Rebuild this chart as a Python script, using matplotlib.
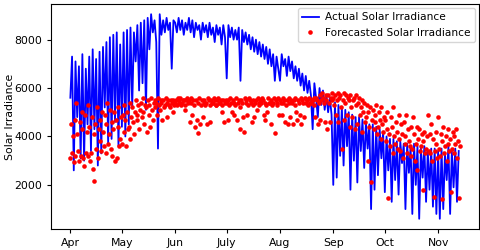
import numpy as np
import pandas as pd
import matplotlib
matplotlib.use("Agg")
import matplotlib.pyplot as plt

# actual irradiance, one value per day
actual_apr = [5600, 7300, 2600, 7100, 4800, 6900, 3100, 7400, 3000, 6800,
              4500, 7300, 3400, 7600, 4300, 7200, 2800, 7500, 3300, 7700,
              5200, 7900, 3700, 8100, 3900, 8200, 4600, 8300, 3600, 7800]
actual_may = [4400, 8300, 4000, 8400, 4500, 8500, 5200, 8300, 7100, 8600,
              5900, 8700, 6200, 8800, 5100, 8900, 7600, 9050, 8300, 8800,
              7900, 3500, 9050, 8200, 8800, 8300, 8900, 8400, 8700, 6800, 8800]
actual_jun = [8700, 8300, 8900, 8400, 8800, 8200, 8700, 8400, 8900, 8300,
              8800, 8100, 8700, 8400, 8600, 8000, 8700, 8300, 8600, 8100,
              8700, 8200, 8500, 7900, 8600, 8200, 8500, 7800, 8600, 8100]
actual_jul = [6400, 8600, 8100, 8500, 8000, 8400, 8000, 8500, 6300, 8400,
              7900, 8300, 7800, 8200, 7600, 8100, 7500, 8000, 7400, 7900,
              7300, 7800, 7200, 7700, 7000, 7600, 6900, 7400, 6300, 7300, 6800]
actual_aug = [6300, 7400, 6900, 7200, 6500, 7300, 6700, 7100, 6400, 6900,
              6300, 6800, 6100, 6600, 5900, 6500, 5800, 6300, 5700, 4300,
              6200, 5600, 4800, 6000, 5300, 5900, 5100, 5700, 5000, 5600, 4900]
actual_sep = [2000, 5400, 2300, 5300, 3200, 5200, 2800, 5100, 3600, 5000,
              1800, 4900, 3000, 4800, 2100, 4800, 3400, 4700, 2700, 4600,
              3500, 4500, 1000, 4500, 1800, 4400, 2400, 4300, 3100, 4200]
actual_oct = [1700, 4000, 2600, 3900, 1300, 3900, 2200, 3800, 1600, 3800,
              2900, 3700, 1000, 3700, 2500, 3600, 800, 3700, 2000, 3600,
              600, 3500, 2300, 3600, 1300, 3400, 1800, 3500, 1100, 3500, 800]
actual_nov = [3400, 600, 3500, 1000, 3300, 2200, 3600, 800, 3400, 1900,
              3500, 1300, 3400]

# forecast irradiance, two values per day
forecast_apr = [3100, 4500, 3300, 4000, 2950, 4700, 3200, 5400, 4100, 3400,
                3000, 4600, 3200, 5000, 4300, 3100, 2800, 4900, 3300, 4200,
                5300, 3200, 4400, 3000, 3300, 4800, 2650, 4100, 2150, 4500,
                3500, 5200, 3100, 4300, 4700, 3800, 3400, 5000, 4200, 3600,
                4900, 3300, 4500, 5400, 3700, 4100, 5100, 3500, 4600, 3200,
                4300, 5000, 3000, 4700, 3100, 5200, 4400, 3600, 3900, 4800]
forecast_may = [3700, 4900, 4200, 5300, 4700, 3600, 5000, 4300, 4400, 5400,
                3900, 4800, 5200, 4600, 4100, 5000, 5500, 4700, 4900, 5300,
                4300, 5100, 5400, 4800, 5000, 5600, 4500, 5300, 5200, 4200,
                5500, 4900, 5300, 4400, 5600, 5100, 4700, 5400, 5200, 5500,
                5400, 4900, 5600, 5300, 5100, 5500, 5400, 4700, 5500, 5200,
                5300, 5600, 5400, 4800, 5500, 5300, 5200, 5500, 5400, 5000,
                5500, 5300]
forecast_jun = [5400, 5500, 5300, 5600, 5500, 5400, 5600, 5300, 5400, 5500,
                5500, 5100, 5300, 5500, 5600, 5400, 5500, 4600, 5400, 5600,
                4900, 5500, 5300, 4400, 5500, 4700, 4150, 5400, 5600, 4500,
                5300, 5500, 4800, 5400, 5500, 5300, 5400, 4500, 5600, 5500,
                5300, 4600, 5500, 5400, 5400, 5600, 5500, 5300, 5300, 5500,
                5600, 5400, 5400, 5500, 5000, 5300, 5500, 4600, 5400, 5500]
forecast_jul = [5400, 4700, 5500, 5300, 5600, 5400, 5000, 5500, 5400, 4900,
                5300, 5600, 4700, 5400, 5500, 5200, 4300, 5500, 5400, 4800,
                4200, 5600, 5500, 5400, 4900, 5300, 5600, 5500, 5400, 4600,
                5300, 5500, 4800, 5400, 5500, 5100, 5600, 5400, 5300, 5500,
                5400, 5600, 5500, 4900, 4700, 5400, 5300, 5000, 5600, 5400,
                5400, 4500, 5500, 5300, 5400, 5600, 4150, 5500, 5300, 5400,
                5600, 4900]
forecast_aug = [5500, 5400, 4900, 5600, 5400, 5500, 4600, 5300, 5500, 4500,
                5600, 5400, 4800, 5500, 5400, 4500, 5500, 5600, 5300, 5000,
                4700, 5500, 5400, 4900, 5600, 4500, 5500, 5400, 4800, 5600,
                5400, 5500, 5500, 5300, 5600, 5400, 5400, 5500, 5500, 5600,
                5300, 4800, 5600, 5500, 4500, 5400, 5700, 4700, 5500, 5800,
                5600, 5400, 4600, 5700, 5500, 4300, 5700, 5400, 4600, 5600,
                5800, 5500]
forecast_sep = [5600, 5300, 5700, 4900, 5500, 5800, 4600, 5600, 5700, 5200,
                3500, 5500, 5800, 4700, 5400, 5700, 4900, 5600, 5500, 4400,
                5700, 5200, 4800, 5500, 5600, 4300, 5300, 5700, 4500, 5400,
                5600, 4900, 5200, 5500, 4200, 5000, 5400, 4600, 4800, 5300,
                3000, 5000, 4400, 5200, 2100, 4700, 5100, 4300, 4600, 4900,
                5300, 4100, 4400, 5000, 4700, 3900, 5200, 4500, 4200, 4800]
forecast_oct = [4700, 3800, 4300, 5000, 1450, 4100, 3600, 4800, 4400, 3300,
                5200, 4000, 3700, 4600, 4200, 3500, 4900, 3900, 3400, 4500,
                4100, 3100, 4600, 3700, 4000, 4900, 3300, 4300, 3800, 3600,
                4400, 3200, 3500, 4800, 4100, 3000, 3700, 4400, 2600, 3900,
                4300, 3400, 3600, 4100, 1800, 3800, 4200, 3300, 3500, 4000,
                4900, 3400, 3300, 4100, 4500, 3000, 3900, 1500, 3400, 4200,
                3700, 3100]
forecast_nov = [4800, 3500, 3200, 4100, 3800, 1400, 4400, 3300, 3600, 4000,
                3000, 3700, 4300, 3400, 3900, 1700, 3500, 4200, 4000, 3300,
                3700, 4300, 3100, 3800, 1450, 3600]

month_labels = ['Apr', 'May', 'Jun', 'July', 'Aug', 'Sep', 'Oct', 'Nov']

actual = np.concatenate([actual_apr, actual_may, actual_jun, actual_jul,
                         actual_aug, actual_sep, actual_oct, actual_nov])
forecast = np.concatenate([forecast_apr, forecast_may, forecast_jun, forecast_jul,
                           forecast_aug, forecast_sep, forecast_oct, forecast_nov])

days = pd.date_range('2023-04-01', periods=len(actual), freq='D')
half_days = pd.date_range('2023-04-01', periods=len(forecast), freq='12h')
month_starts = pd.date_range('2023-04-01', periods=len(month_labels), freq='MS')

fig = plt.figure(figsize=(4.8, 2.5), dpi=100)
ax = fig.add_axes([0.106, 0.084, 0.892, 0.9])

ax.plot(days, actual, color='blue', linewidth=1.3, label='Actual Solar Irradiance')
ax.plot(half_days, forecast, 'o', color='red', markersize=3.3, markeredgewidth=0,
        label='Forecasted Solar Irradiance')

ax.set_xticks(month_starts)
ax.set_xticklabels(month_labels)
ax.set_yticks([2000, 4000, 6000, 8000])
ax.tick_params(labelsize=7.8, length=3)
ax.set_ylabel('Solar Irradiance', fontsize=7.8, labelpad=-1)
ax.legend(loc='upper right', fontsize=7.6, borderaxespad=0.4,
          handlelength=1.6, handletextpad=0.6)

fig.savefig('out.png', dpi=100)
